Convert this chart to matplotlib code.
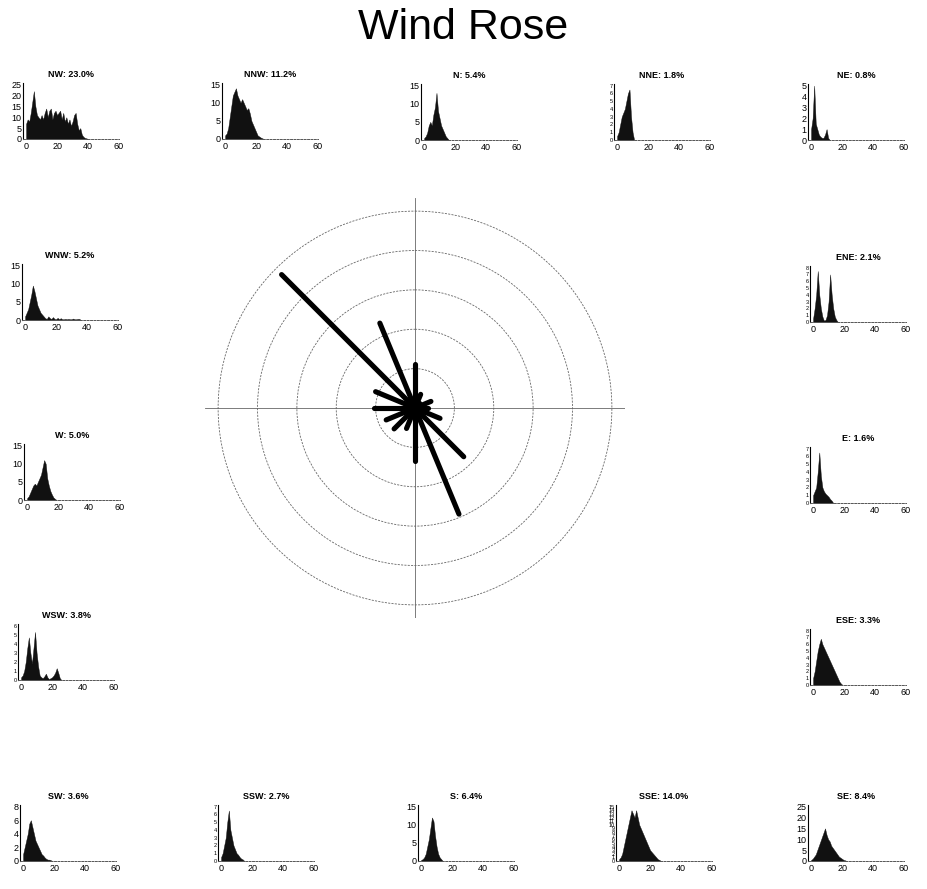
import matplotlib.pyplot as plt
import numpy as np

# Frequency (%) per direction, clockwise from N
directions = ['N', 'NNE', 'NE', 'ENE', 'E', 'ESE', 'SE', 'SSE',
              'S', 'SSW', 'SW', 'WSW', 'W', 'WNW', 'NW', 'NNW']
freq = [5.4, 1.8, 0.8, 2.1, 1.6, 3.3, 8.4, 14.0,
        6.4, 2.7, 3.6, 3.8, 5.0, 5.2, 23.0, 11.2]

# Wind speed histograms (counts per 1-unit speed bin, starting at 0)
n_counts = [0.5, 1, 2, 4, 5, 4, 7, 9, 13, 8, 6, 4, 3, 2, 1, 0.5, 0]
nne_counts = [0.5, 1, 2, 3, 3.5, 4, 5, 6, 6.5, 3, 1, 0]
ne_counts = [1, 2, 5, 1.5, 1, 0.5, 0.3, 0.2, 0.2, 0.5, 1, 0.2, 0]
ene_counts = [0.5, 2, 4, 7.5, 4, 2, 0.8, 0.2, 0.3, 1, 3, 7, 4, 2, 0.8, 0.3, 0]
e_counts = [1, 1.5, 2, 4, 6.5, 3.5, 2, 1.5, 1.2, 1, 0.8, 0.5, 0.3, 0]
ese_counts = [1, 2, 3.5, 5, 6, 6.8, 6, 5.5, 5, 4.5, 4, 3.5, 3, 2.5, 2, 1.5,
              1, 0.5, 0.2, 0]
se_counts = [0.5, 1, 2, 3, 5, 7, 9, 11, 13, 15, 12, 10, 9, 7, 6, 5, 4, 3,
             2, 1.5, 1, 0.5, 0.3, 0]
sse_counts = [0.5, 1, 2, 4, 6, 8, 10, 12, 14, 13, 12, 14, 12, 10, 9, 8, 7,
              6, 5, 4, 3, 2.5, 2, 1.5, 1, 0.5, 0.3, 0]
s_counts = [0.3, 0.5, 1, 2, 4, 6, 9, 12, 11, 7, 4, 2, 1, 0.5, 0]
ssw_counts = [0.5, 1, 2, 3, 5, 6.5, 4, 3, 2, 1.5, 1, 0.8, 0.5, 0.3, 0.2, 0]
sw_counts = [1, 2, 3, 4, 5.5, 6, 5, 4, 3, 2.5, 2, 1.5, 1, 0.8, 0.5, 0.3,
             0.2, 0.2, 0.1, 0]
wsw_counts = [0.3, 0.5, 1, 2, 3.5, 4.7, 3, 1.8, 3.5, 5.3, 3, 1.5, 0.5, 0.3,
              0.2, 0.4, 0.7, 0.3, 0.1, 0.2, 0.3, 0.5, 0.8, 1.3, 0.8, 0.2, 0]
w_counts = [0.5, 1, 2, 3, 4, 4.5, 4, 5, 6, 7, 9, 11, 10, 6, 4, 2.5, 1.5,
            0.7, 0.3, 0]
wnw_counts = [1, 2, 3, 5, 7, 9.5, 8, 6, 4, 3, 2, 1.5, 1, 0.5, 0.3, 1, 0.5,
              0.3, 0.8, 0.3, 0.2, 0.6, 0.2, 0.5, 0.2, 0.2, 0.3, 0.2, 0.3,
              0.2, 0.2, 0.4, 0.2, 0.2, 0.3, 0.3, 0]
nw_counts = [7, 9, 8, 12, 17, 22, 15, 11, 10, 9, 11, 9, 12, 14, 10, 13, 14,
             9, 12, 13, 11, 12, 13, 9, 12, 8, 10, 7, 9, 6, 8, 11, 12, 7, 4,
             5, 2, 1, 0.5, 0.3, 0]
nnw_counts = [1, 1.5, 3, 6, 9, 12, 13, 14, 12, 11, 10, 11, 10, 9, 8, 8.5, 7,
              5, 4, 3, 2, 1, 0.7, 0.4, 0.2, 0]

counts = {'N': n_counts, 'NNE': nne_counts, 'NE': ne_counts,
          'ENE': ene_counts, 'E': e_counts, 'ESE': ese_counts,
          'SE': se_counts, 'SSE': sse_counts, 'S': s_counts,
          'SSW': ssw_counts, 'SW': sw_counts, 'WSW': wsw_counts,
          'W': w_counts, 'WNW': wnw_counts, 'NW': nw_counts,
          'NNW': nnw_counts}

# y ticks for each small histogram
yticks = {'N': [0, 5, 10, 15], 'NNE': list(range(0, 8)),
          'NE': list(range(0, 6)), 'ENE': list(range(0, 9)),
          'E': list(range(0, 8)), 'ESE': list(range(0, 9)),
          'SE': [0, 5, 10, 15, 20, 25], 'SSE': list(range(0, 16)),
          'S': [0, 5, 10, 15], 'SSW': list(range(0, 8)),
          'SW': [0, 2, 4, 6, 8], 'WSW': list(range(0, 7)),
          'W': [0, 5, 10, 15], 'WNW': [0, 5, 10, 15],
          'NW': [0, 5, 10, 15, 20, 25], 'NNW': [0, 5, 10, 15]}

# panel placement in pixels: (left of y axis, baseline)
panel_pos = {'NW': (23, 139), 'NNW': (222, 139), 'N': (421, 140),
             'NNE': (614, 140), 'NE': (808, 140),
             'WNW': (22, 320), 'ENE': (810, 322),
             'W': (24, 500), 'E': (810, 503),
             'WSW': (18, 680), 'ESE': (810, 685),
             'SW': (20, 861), 'SSW': (218, 861), 'S': (418, 861),
             'SSE': (616, 861), 'SE': (808, 861)}

W_PX, H_PX = 927, 889
fig = plt.figure(figsize=(W_PX / 100, H_PX / 100), dpi=100)
plt.rcParams['font.family'] = ['Liberation Sans', 'DejaVu Sans']

fig.text(0.5, 1 - 28 / H_PX, 'Wind Rose', ha='center', va='center',
         fontsize=31)

# ---- central rose ----
cx, cy, rad = 415, 408, 210
ax = fig.add_axes([(cx - rad) / W_PX, (H_PX - cy - rad) / H_PX,
                   2 * rad / W_PX, 2 * rad / H_PX], projection='polar')
ax.set_theta_zero_location('N')
ax.set_theta_direction(-1)
rmax = 25.6
ax.set_ylim(0, rmax)
ax.set_rgrids([4.8, 9.6, 14.4, 19.2, 24.0], labels=[''] * 5)
ax.set_thetagrids([])
ax.yaxis.grid(True, color='#666666', linestyle=(0, (2.5, 1.5)),
              linewidth=0.6)
ax.spines['polar'].set_visible(False)
ax.set_facecolor('none')
for t in [0, np.pi / 2, np.pi, 3 * np.pi / 2]:
    ax.plot([t, t], [0, rmax], color='#666666', linewidth=0.6)
theta = np.deg2rad(np.arange(16) * 22.5)
for t, f in zip(theta, freq):
    ax.plot([t, t], [0, f], color='black', linewidth=3.7,
            solid_capstyle='round')

# ---- wind speed histograms ----
ax_w, ax_h = 96, 56
for d, f in zip(directions, freq):
    x0, y0 = panel_pos[d]
    hax = fig.add_axes([x0 / W_PX, (H_PX - y0) / H_PX, ax_w / W_PX,
                        ax_h / H_PX])
    c = np.array(counts[d], dtype=float)
    spd = np.arange(len(c))
    hax.fill_between(spd, c, 0, color='#111111', linewidth=0.3)
    yt = yticks[d]
    hax.set_xlim(-2, 60)
    hax.set_ylim(0, yt[-1] * 1.03)
    hax.set_xticks([0, 20, 40, 60])
    hax.set_yticks(yt)
    hax.tick_params(axis='x', labelsize=6.5, length=0, pad=2)
    small = len(yt) > 6
    hax.tick_params(axis='y', labelsize=4 if small else 6.5, length=0,
                    pad=1)
    for s in ['top', 'right']:
        hax.spines[s].set_visible(False)
    hax.spines['left'].set_linewidth(0.8)
    hax.spines['bottom'].set_linestyle((0, (2, 1.5)))
    hax.spines['bottom'].set_color('#555555')
    hax.spines['bottom'].set_linewidth(0.7)
    hax.set_facecolor('none')
    hax.set_title('%s: %.1f%%' % (d, f), fontsize=6.5, fontweight='bold',
                  pad=4)

fig.savefig('out.png', dpi=100)
